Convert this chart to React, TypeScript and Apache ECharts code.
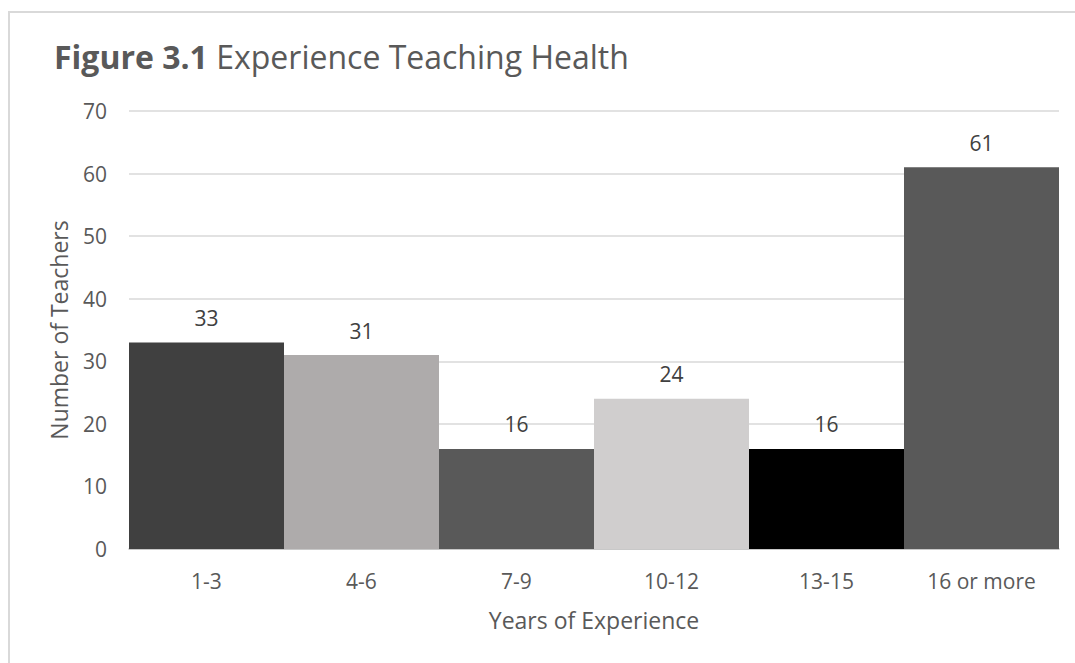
import React, { useEffect, useRef } from "react";
import * as echarts from "echarts";

const categories = ["1-3", "4-6", "7-9", "10-12", "13-15", "16 or more"];
const values = [33, 31, 16, 24, 16, 61];
const barColors = ["#404040", "#AEABAB", "#595959", "#D0CECE", "#000000", "#595959"];
const yTicks = { min: 0, max: 70, interval: 10 };

export default function App() {
  const ref = useRef<HTMLDivElement>(null);
  useEffect(() => {
    if (!ref.current) return;
    const chart = echarts.init(ref.current, null, { renderer: "svg" });
    const font = "'Open Sans', sans-serif";
    chart.setOption({
      animation: false,
      backgroundColor: "#ffffff",
      textStyle: { fontFamily: font },
      title: {
        left: 49,
        top: 35,
        text: "{b|Figure 3.1} {n|Experience Teaching Health}",
        textStyle: {
          fontWeight: "normal",
          fontSize: 32,
          color: "#595959",
          rich: {
            b: { fontFamily: font, fontSize: 32, fontWeight: "bold", color: "#595959" },
            n: { fontFamily: font, fontSize: 32, fontWeight: "normal", color: "#595959" },
          },
        },
      },
      graphic: [
        {
          type: "rect",
          shape: { x: 9, y: 12, width: 1100, height: 700 },
          style: { fill: "none", stroke: "#D9D9D9", lineWidth: 2 },
          silent: true,
        },
      ],
      grid: { left: 129, right: 16, top: 111, bottom: 114, containLabel: false },
      xAxis: {
        type: "category",
        data: categories,
        name: "Years of Experience",
        nameLocation: "middle",
        nameGap: 59,
        nameTextStyle: { fontFamily: font, fontSize: 23, color: "#595959" },
        axisLine: { show: true, lineStyle: { color: "#BFBFBF", width: 1.5 } },
        axisTick: { show: false },
        axisLabel: { fontFamily: font, fontSize: 21, color: "#595959", margin: 21 },
      },
      yAxis: {
        type: "value",
        min: yTicks.min,
        max: yTicks.max,
        interval: yTicks.interval,
        name: "Number of Teachers",
        nameLocation: "middle",
        nameGap: 59,
        nameTextStyle: { fontFamily: font, fontSize: 23, color: "#595959" },
        axisLine: { show: false },
        axisTick: { show: false },
        axisLabel: { fontFamily: font, fontSize: 21, color: "#595959", margin: 22 },
        splitLine: { lineStyle: { color: "#D9D9D9", width: 1.5 } },
      },
      series: [
        {
          type: "bar",
          data: values.map((v, i) => ({ value: v, itemStyle: { color: barColors[i] } })),
          barWidth: "100%",
          barCategoryGap: 0,
          label: {
            show: true,
            position: "top",
            distance: 14,
            fontFamily: font,
            fontSize: 21,
            color: "#404040",
          },
        },
      ],
    });
    return () => chart.dispose();
  }, []);
  return (
    <div
      ref={ref}
      style={{ position: "absolute", left: 0, top: 0, width: 1075, height: 663 }}
    />
  );
}
